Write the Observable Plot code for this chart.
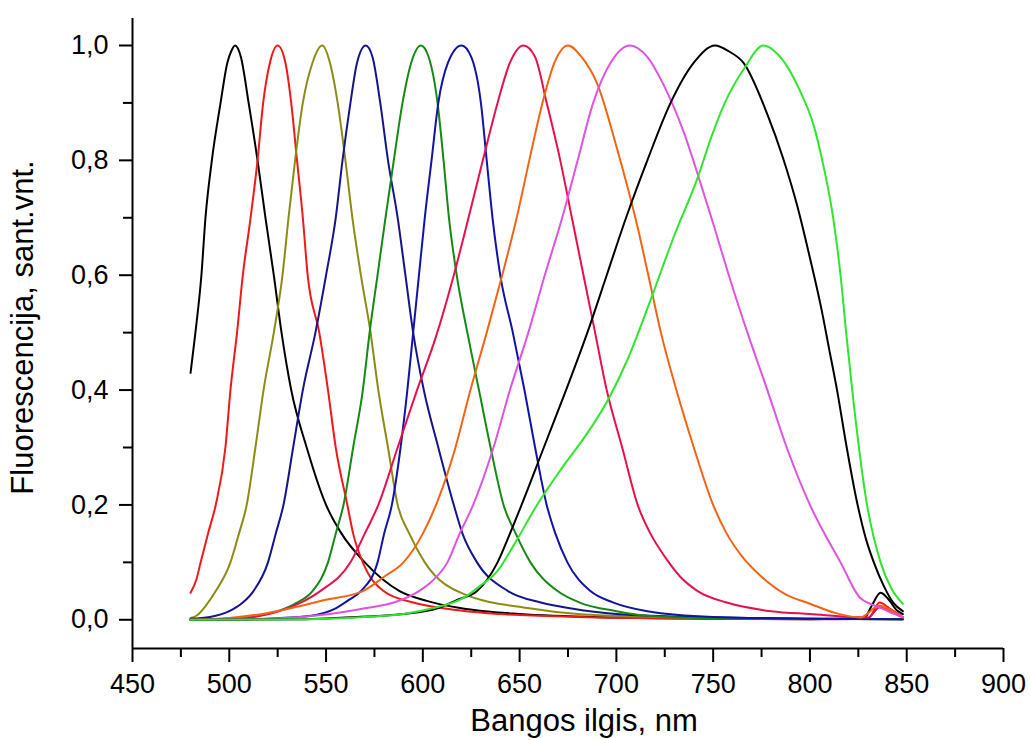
<!DOCTYPE html>
<html><head><meta charset="utf-8">
<script src="https://cdn.jsdelivr.net/npm/d3@7"></script>
<script src="https://cdn.jsdelivr.net/npm/@observablehq/plot@0.6"></script>
<style>body{margin:0;background:#fff} #chart svg{display:block}</style>
</head><body><div id="chart"></div>
<script>
const xDomain = [450, 900];
const yDomain = [-0.05, 1.047];
const xTicks = [450, 500, 550, 600, 650, 700, 750, 800, 850, 900];
const xMinorTicks = [475, 525, 575, 625, 675, 725, 775, 825, 875];
const yTicks = [0, 0.2, 0.4, 0.6, 0.8, 1.0];
const yMinorTicks = [0.1, 0.3, 0.5, 0.7, 0.9];
const xTitle = "Bangos ilgis, nm";
const yTitle = "Fluorescencija, sant.vnt.";

// [wavelength nm, fluorescence]
const black503 = [[480,0.43],[482.5,0.5],[485.6,0.6],[487.7,0.7],[491,0.8],[495.5,0.9],[499,0.97],[501,0.99],[503,1.0],[506,0.98],[510,0.9],[514.6,0.8],[518.7,0.7],[523,0.6],[527,0.5],[532,0.4],[540,0.3],[550,0.2],[558,0.15],[570,0.1],[588,0.05],[602,0.033],[620,0.02],[650,0.01],[700,0.004],[750,0.002],[800,0.001],[828,0.003],[832,0.025],[836.5,0.047],[840,0.038],[845,0.016],[848,0.01]];
const red525 = [[480,0.047],[483,0.07],[485,0.097],[489,0.15],[493,0.2],[498,0.3],[500.6,0.4],[504,0.5],[507,0.6],[511,0.7],[514.6,0.8],[517.5,0.9],[521,0.97],[525,1.0],[529,0.97],[532,0.9],[535,0.8],[538,0.7],[540.5,0.6],[546.5,0.5],[551,0.4],[555,0.3],[561,0.2],[564,0.15],[569,0.1],[579.7,0.05],[595,0.03],[615,0.018],[640,0.01],[680,0.005],[750,0.002],[800,0.001],[830,0.002],[836,0.03],[841,0.02],[848,0.005]];
const olive548 = [[480,0.003],[483,0.007],[488,0.025],[493,0.05],[500.6,0.1],[505,0.15],[509,0.2],[513.5,0.3],[517.7,0.4],[523,0.5],[527.5,0.6],[530.6,0.7],[534,0.8],[538,0.9],[543,0.97],[548,1.0],[552,0.97],[556,0.9],[560,0.8],[563.6,0.7],[568,0.6],[573,0.5],[577,0.4],[582,0.3],[587,0.2],[593,0.15],[601,0.1],[621,0.045],[655,0.02],[680,0.01],[720,0.005],[800,0.002],[848,0.001]];
const navy571 = [[480,0.002],[490,0.005],[500,0.015],[507,0.03],[512.5,0.05],[520,0.1],[524,0.15],[528,0.2],[533,0.3],[538,0.4],[544.5,0.5],[550,0.6],[555,0.7],[558.5,0.8],[562.6,0.9],[566,0.97],[570.5,1.0],[574,0.98],[578,0.9],[582,0.8],[587,0.7],[591,0.6],[595,0.5],[600.5,0.4],[608,0.3],[616,0.2],[620.5,0.15],[628,0.1],[644,0.05],[661,0.03],[676,0.02],[700,0.01],[750,0.004],[800,0.002],[848,0.001]];
const green599 = [[480,0],[500,0.002],[515,0.007],[525,0.015],[535,0.03],[543,0.05],[551,0.1],[555,0.15],[559,0.2],[564,0.3],[569,0.4],[572.5,0.5],[576.6,0.6],[580.7,0.7],[585,0.8],[589.5,0.9],[594,0.97],[599,1.0],[603,0.98],[607.6,0.9],[610.7,0.8],[613.5,0.7],[617.5,0.6],[623,0.5],[629,0.4],[635,0.3],[641.7,0.2],[648,0.15],[655.6,0.1],[669.6,0.05],[681,0.03],[700,0.015],[720,0.006],[760,0.002],[848,0.001]];
const blue620 = [[480,0],[520,0.002],[540,0.006],[555,0.02],[562,0.035],[568,0.05],[576.6,0.1],[580,0.15],[584,0.2],[588.5,0.3],[592,0.4],[595,0.5],[598,0.6],[601,0.7],[604.5,0.8],[608,0.9],[613,0.97],[620,1.0],[625,0.98],[630,0.9],[633,0.8],[636,0.7],[640,0.6],[646.5,0.5],[652.5,0.4],[658,0.3],[664,0.2],[668.5,0.15],[674.7,0.1],[686.6,0.05],[698.5,0.03],[716,0.015],[750,0.005],[800,0.002],[848,0.001]];
const crimson652 = [[480,0],[500,0.002],[515,0.006],[526,0.015],[537,0.03],[547,0.05],[562.6,0.1],[570,0.15],[577,0.2],[587,0.3],[597,0.4],[606.5,0.49],[616,0.6],[623.6,0.7],[631,0.8],[638.6,0.9],[645,0.97],[652,1.0],[658,0.98],[664,0.9],[671,0.8],[677,0.7],[683,0.6],[689,0.5],[695,0.4],[703,0.3],[711,0.2],[717.6,0.15],[725,0.11],[733,0.075],[742,0.05],[757,0.03],[780,0.015],[800,0.01],[830,0.004],[836,0.022],[841,0.015],[848,0.004]];
const orange675 = [[480,0],[500,0.003],[520,0.012],[531.6,0.02],[550,0.035],[569,0.05],[580,0.075],[590,0.1],[600,0.15],[608,0.21],[616,0.29],[624.6,0.4],[633,0.5],[641,0.6],[648.5,0.7],[655,0.8],[661.8,0.9],[668,0.97],[675,1.0],[682,0.98],[690,0.934],[700.6,0.817],[711,0.683],[716.5,0.6],[723,0.5],[731,0.4],[740,0.3],[750,0.2],[757,0.15],[765,0.11],[775,0.075],[787,0.045],[800,0.028],[813,0.012],[826,0.004],[836,0.025],[841,0.018],[848,0.004]];
const magenta707 = [[480,0],[520,0.002],[552,0.01],[570,0.02],[585,0.03],[598,0.05],[605,0.068],[612.7,0.1],[619,0.15],[626,0.2],[636.5,0.3],[645,0.4],[654.5,0.5],[663,0.6],[672,0.7],[680,0.8],[688,0.9],[697,0.97],[707,1.0],[716,0.98],[724,0.934],[734.7,0.85],[743.5,0.76],[750,0.69],[759,0.59],[767.7,0.5],[778,0.4],[788,0.3],[800,0.2],[815.8,0.1],[826,0.038],[831,0.028],[837,0.02],[842,0.012],[848,0.005]];
const black751 = [[480,0],[540,0.001],[560,0.004],[590,0.01],[607.6,0.02],[618,0.035],[628,0.05],[638.6,0.1],[645,0.15],[651,0.2],[662.5,0.3],[674,0.4],[685,0.5],[695,0.6],[705,0.7],[716,0.8],[728,0.9],[740,0.97],[751,1.0],[758,0.99],[765.6,0.97],[778,0.88],[786,0.805],[793.5,0.72],[800,0.63],[806,0.54],[810,0.47],[814,0.4],[819,0.3],[824,0.21],[829,0.14],[833,0.1],[838,0.06],[843,0.03],[848,0.015]];
const lime777 = [[480,0],[540,0.001],[570,0.005],[590,0.01],[605,0.02],[621,0.038],[630,0.06],[638.6,0.085],[647,0.13],[659,0.2],[672,0.265],[685,0.325],[696,0.385],[706,0.455],[718,0.56],[730,0.67],[742,0.77],[749,0.84],[756,0.9],[766,0.96],[776,1.0],[783,0.986],[795,0.92],[802,0.86],[807,0.79],[812,0.7],[815.8,0.6],[819,0.49],[822.5,0.38],[829,0.21],[836.5,0.1],[842,0.055],[848,0.028]];

const seriesData = [black503, red525, olive548, navy571, green599, blue620, crimson652, orange675, magenta707, black751, lime777];
const seriesColors = ["#000000", "#f01818", "#8c8c14", "#14148c", "#138a13", "#1212a6", "#e8104c", "#f26414", "#e052e0", "#000000", "#2ee62e"];

const fmt = d => d.toFixed(1).replace(".", ",");
const font = "'Liberation Sans', Arial, Helvetica, sans-serif";

const plot = Plot.plot({
  width: 1030, height: 740,
  marginLeft: 132, marginRight: 27, marginTop: 18, marginBottom: 92,
  style: {fontFamily: font, background: "#fff", color: "#000"},
  x: {domain: xDomain},
  y: {domain: yDomain},
  marks: [
    ...seriesData.map((s, i) => Plot.line(s, {x: d => d[0], y: d => d[1], stroke: seriesColors[i], strokeWidth: 2, curve: "monotone-x"})),
    Plot.ruleX([xDomain[0]], {stroke: "#000", strokeWidth: 2}),
    Plot.ruleY([yDomain[0]], {stroke: "#000", strokeWidth: 2}),
    Plot.axisX({ticks: xTicks, tickSize: 14, tickPadding: 11, fontSize: 27, strokeWidth: 2, label: null, tickFormat: d => String(d)}),
    Plot.axisX({ticks: xMinorTicks, tickSize: 9, strokeWidth: 2, label: null, tickFormat: () => ""}),
    Plot.axisY({ticks: yTicks, tickSize: 13, tickPadding: 11, fontSize: 27, strokeWidth: 2, label: null, tickFormat: fmt}),
    Plot.axisY({ticks: yMinorTicks, tickSize: 9, strokeWidth: 2, label: null, tickFormat: () => ""}),
    Plot.text([yTitle], {text: d => d, frameAnchor: "left", textAnchor: "middle", lineAnchor: "middle", dx: -109, dy: -6, rotate: -90, fontSize: 31, fill: "#000"}),
    Plot.text([xTitle], {text: d => d, frameAnchor: "bottom", textAnchor: "middle", lineAnchor: "middle", dx: 16, dy: 73, fontSize: 31, fill: "#000"})
  ]
});
document.getElementById("chart").appendChild(plot);
</script>
</body></html>
